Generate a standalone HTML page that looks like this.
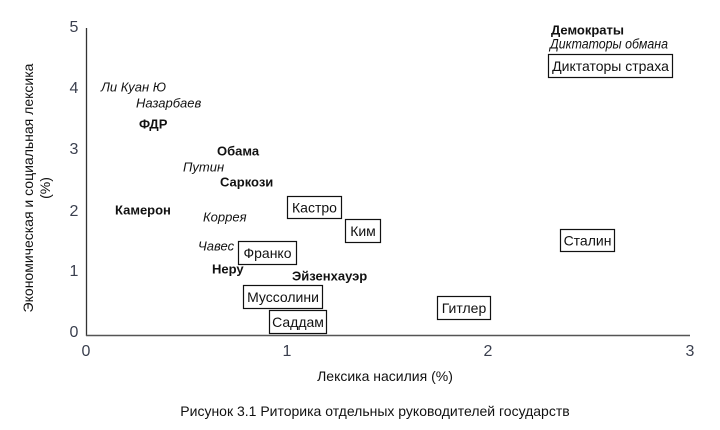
<!DOCTYPE html>
<html><head><meta charset="utf-8"><style>
html,body{margin:0;padding:0;background:#fff;width:720px;height:430px;overflow:hidden}
svg text{font-family:"Liberation Sans",sans-serif}
</style></head><body>
<svg width="720" height="430" xmlns="http://www.w3.org/2000/svg">
<line x1="86.5" y1="28" x2="86.5" y2="336" stroke="#333" stroke-width="1.3"/>
<line x1="86" y1="335.5" x2="690" y2="335.5" stroke="#555" stroke-width="1.5"/>
<g font-size="16" fill="#3a3f4e" text-anchor="middle">
<text x="74" y="32">5</text><text x="74" y="93">4</text><text x="74" y="154">3</text>
<text x="74" y="216">2</text><text x="74" y="276">1</text><text x="74" y="337">0</text>
<text x="86" y="356">0</text><text x="287" y="356">1</text><text x="488" y="356">2</text><text x="690" y="356">3</text>
</g>
<g transform="translate(33,188) rotate(-90)" font-size="14" fill="#111" text-anchor="middle">
<text x="0" y="0">Экономическая и социальная лексика</text>
<text x="0" y="17">(%)</text>
</g>
<text x="385" y="381" font-size="14" text-anchor="middle" fill="#111">Лексика насилия (%)</text>
<text x="375" y="416" font-size="14" text-anchor="middle" fill="#111">Рисунок 3.1 Риторика отдельных руководителей государств</text>
<g font-size="13" fill="#111">
<text x="101" y="91.5" font-style="italic">Ли Куан Ю</text>
<text x="136" y="107.5" font-style="italic">Назарбаев</text>
<text x="139" y="128.5" font-weight="bold">ФДР</text>
<text x="217" y="155.5" font-weight="bold">Обама</text>
<text x="183" y="171.5" font-style="italic">Путин</text>
<text x="220" y="186.5" font-weight="bold">Саркози</text>
<text x="115" y="214.5" font-weight="bold">Камерон</text>
<text x="203" y="221.5" font-style="italic">Коррея</text>
<text x="198" y="250.5" font-style="italic">Чавес</text>
<text x="212" y="273.5" font-weight="bold">Неру</text>
<text x="292" y="280.5" font-weight="bold">Эйзенхауэр</text>
<text x="551" y="34.5" font-weight="bold">Демократы</text>
<text x="550" y="48.5" font-style="italic" font-size="13.5" textLength="118" lengthAdjust="spacingAndGlyphs">Диктаторы обмана</text>
</g>
<g fill="#fff" stroke="#111" stroke-width="1.2">
<rect x="238.5" y="241.5" width="58" height="23"/>
<rect x="243.5" y="285.5" width="79" height="23"/>
<rect x="269.5" y="310.5" width="57" height="23"/>
<rect x="287.5" y="196.5" width="54" height="22"/>
<rect x="345.5" y="219.5" width="35" height="23"/>
<rect x="437.5" y="296.5" width="53" height="23"/>
<rect x="560.5" y="229.5" width="54" height="22"/>
<rect x="548.5" y="54.5" width="124" height="23"/>
</g>
<g font-size="14" fill="#111" text-anchor="middle">
<text x="267.5" y="258">Франко</text>
<text x="283" y="302">Муссолини</text>
<text x="298" y="327">Саддам</text>
<text x="314.5" y="212.5">Кастро</text>
<text x="363" y="236">Ким</text>
<text x="464" y="313">Гитлер</text>
<text x="587.5" y="245.5">Сталин</text>
<text x="610.5" y="71">Диктаторы страха</text>
</g>
</svg>
</body></html>
